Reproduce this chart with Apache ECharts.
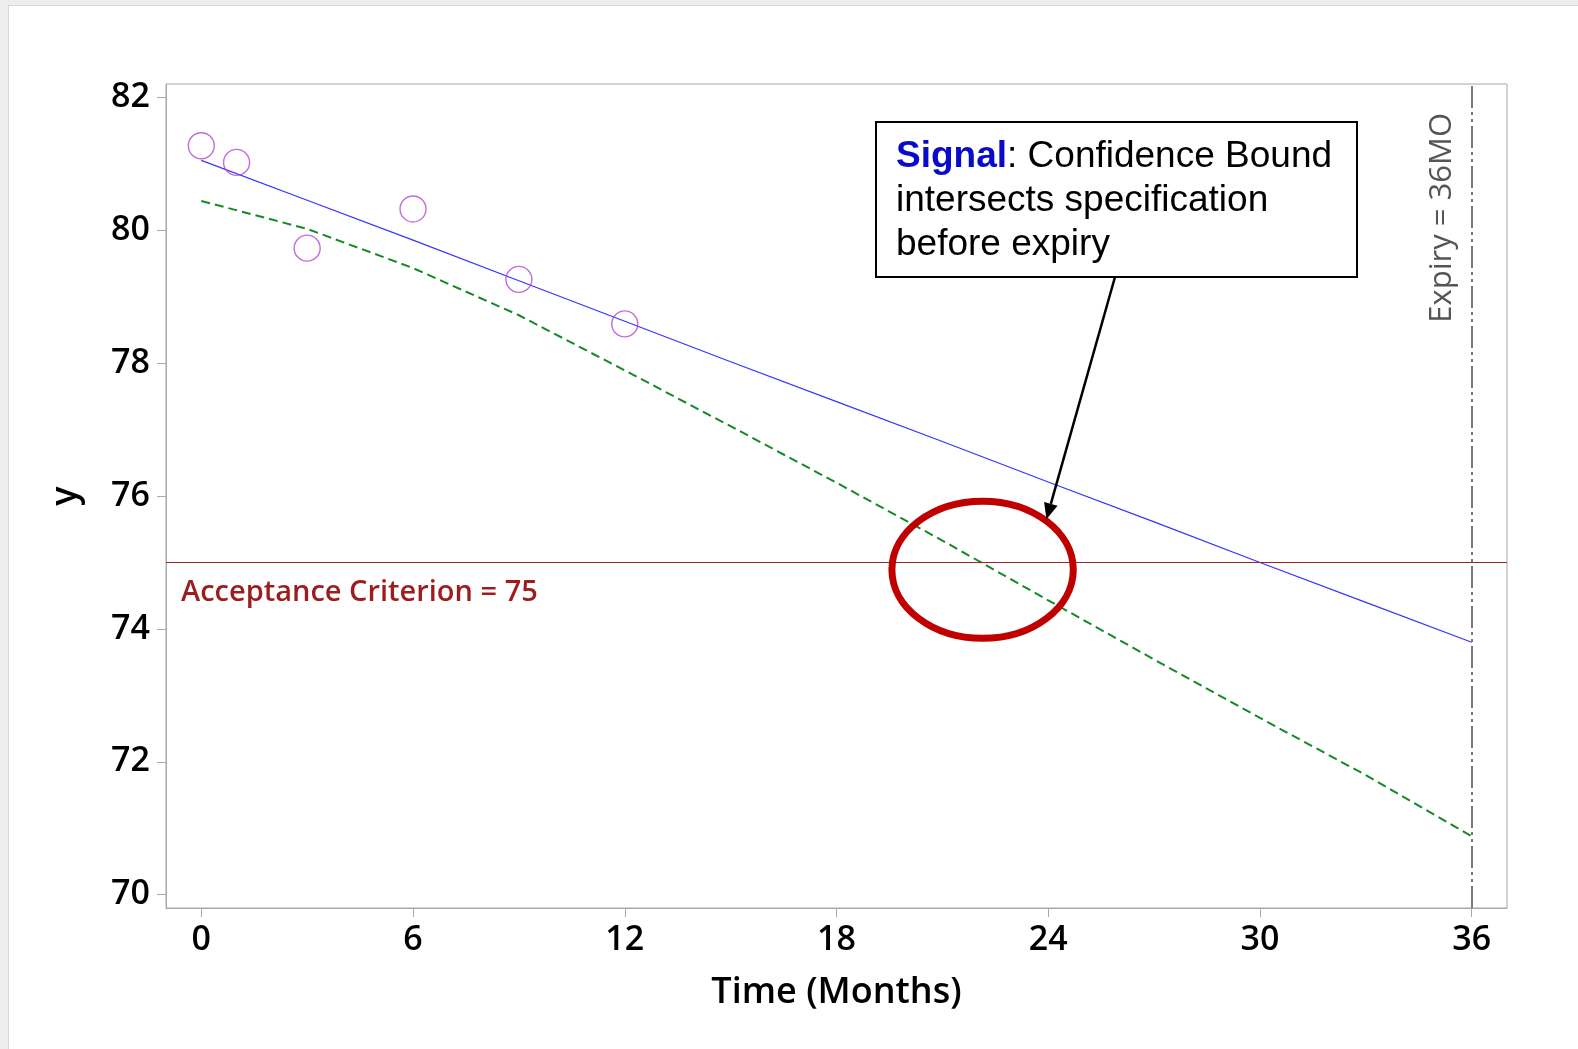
<!DOCTYPE html>
<html>
<head>
<meta charset="utf-8">
<title>Stability trend – Time (Months)</title>
<script src="https://cdn.jsdelivr.net/npm/echarts@6/dist/echarts.min.js"></script>
<style>
  html, body { margin: 0; padding: 0; width: 1578px; height: 1049px; background: #eeeeee; overflow: hidden; }
  #card { position: absolute; left: 8px; top: 5px; right: 0; bottom: 0; background: #fff;
          border-left: 1px solid #d8d8d8; border-top: 1px solid #d8d8d8; }
  #chart { position: absolute; left: 0; top: 0; width: 1578px; height: 1049px; }
</style>
</head>
<body>
<div id="card"></div>
<div id="chart"></div>
<script>
// Observed assay results
const obsMonths = [0, 1, 3, 6, 9, 12];
const obsValues = [81.27, 81.02, 79.73, 80.32, 79.26, 78.59];

// Fitted regression line and its lower confidence bound, read at 3-month steps
const gridMonths = [0, 3, 6, 9, 12, 15, 18, 21, 24, 27, 30, 33, 36];
const fitValues   = [81.05, 80.45, 79.85, 79.24, 78.63, 78.02, 77.42, 76.82, 76.21, 75.61, 75.00, 74.40, 73.80];
const lowerValues = [80.44, 80.02, 79.43, 78.72, 77.89, 77.05, 76.20, 75.33, 74.43, 73.54, 72.66, 71.80, 70.88];

// Tick labels
const xTicks = [0, 6, 12, 18, 24, 30, 36];
const yTicks = [70, 72, 74, 76, 78, 80, 82];

// Reference levels
const acceptance = 75;
const expiry = 36;

const FONT = '"Open Sans", "Noto Sans", sans-serif';
const chart = echarts.init(document.getElementById('chart'), null, { renderer: 'canvas' });

const pairs = (xs, ys) => xs.map((x, i) => [x, ys[i]]);

chart.setOption({
  backgroundColor: 'transparent',
  animation: false,
  grid: { left: 166, right: 71, top: 84, bottom: 141, show: true,
          borderColor: '#a8a8a8', borderWidth: 1, backgroundColor: 'transparent' },
  xAxis: {
    type: 'value', min: -1, max: 37,
    splitLine: { show: false },
    axisLine: { show: true, onZero: false, lineStyle: { color: '#a8a8a8', width: 1 } },
    axisTick: { show: true, customValues: xTicks, length: 9, lineStyle: { color: '#a8a8a8' } },
    axisLabel: { customValues: xTicks, fontSize: 34, fontWeight: 600, color: '#000', margin: 15, fontFamily: FONT },
    name: 'Time (Months)', nameLocation: 'middle', nameGap: 67,
    nameTextStyle: { fontSize: 36, fontWeight: 600, color: '#000', fontFamily: FONT }
  },
  yAxis: {
    type: 'value', min: 69.8, max: 82.2,
    splitLine: { show: false },
    axisLine: { show: true, onZero: false, lineStyle: { color: '#a8a8a8', width: 1 } },
    axisTick: { show: true, customValues: yTicks, length: 9, lineStyle: { color: '#a8a8a8' } },
    axisLabel: { customValues: yTicks, fontSize: 34, fontWeight: 600, color: '#000', margin: 16, fontFamily: FONT },
    name: 'y', nameLocation: 'middle', nameGap: 82, nameRotate: 90,
    nameTextStyle: { fontSize: 36, fontWeight: 600, color: '#000', fontFamily: FONT }
  },
  series: [
    {
      name: 'Fit', type: 'line', data: pairs(gridMonths, fitValues),
      showSymbol: false, lineStyle: { color: '#3434ff', width: 1.2 }, z: 3,
      markLine: {
        silent: true, symbol: 'none', label: { show: false },
        data: [
          { yAxis: acceptance, lineStyle: { color: '#9c2626', width: 1.2, type: 'solid' } },
          { xAxis: expiry, lineStyle: { color: '#7a7a7a', width: 2, type: [22, 4, 3, 4, 3, 4] } }
        ]
      }
    },
    {
      name: 'Lower bound', type: 'line', data: pairs(gridMonths, lowerValues),
      showSymbol: false, lineStyle: { color: '#138a25', width: 2, type: [9, 5] }, z: 3
    },
    {
      name: 'Observed', type: 'scatter', data: pairs(obsMonths, obsValues),
      symbol: 'circle', symbolSize: 26,
      itemStyle: { color: 'rgba(255,255,255,0)', borderColor: '#b048d4', borderWidth: 1.4 }, z: 4
    }
  ]
});

// Annotations positioned from data coordinates
function px(x, y) { return chart.convertToPixel({ gridIndex: 0 }, [x, y]); }

const acc = px(-1, acceptance);
const exp = px(expiry, 82.2);
const ring = px(22.14, 74.89);
const tip = px(23.95, 75.65);

const boxL = 876, boxT = 122, boxW = 481, boxH = 155;
const tail = [1115, boxT + boxH];
const ang = Math.atan2(tip[1] - tail[1], tip[0] - tail[0]);
const headLen = 16, headHalf = 7;
const base = [tip[0] - headLen * Math.cos(ang), tip[1] - headLen * Math.sin(ang)];
const nx = -Math.sin(ang), ny = Math.cos(ang);

chart.setOption({
  graphic: [
    {
      type: 'text', left: acc[0] + 15, top: acc[1] + 16,
      style: { text: 'Acceptance Criterion = ' + acceptance, fontSize: 29, fontWeight: 600,
               fontFamily: FONT, fill: '#9c1d1d' }, z: 10
    },
    {
      type: 'text', x: exp[0] - 30, y: exp[1] + 29, rotation: Math.PI / 2,
      style: { text: 'Expiry = ' + expiry + 'MO', fontSize: 31, fontFamily: FONT, fill: '#555',
               align: 'right', verticalAlign: 'middle' }, z: 10
    },
    {
      type: 'ellipse', shape: { cx: ring[0], cy: ring[1], rx: 90.7, ry: 68.6 },
      style: { fill: 'none', stroke: '#c00000', lineWidth: 7 }, z: 10
    },
    {
      type: 'line', shape: { x1: tail[0], y1: tail[1], x2: base[0], y2: base[1] },
      style: { stroke: '#000', lineWidth: 2.5 }, z: 11
    },
    {
      type: 'polygon',
      shape: { points: [tip, [base[0] + nx * headHalf, base[1] + ny * headHalf], [base[0] - nx * headHalf, base[1] - ny * headHalf]] },
      style: { fill: '#000' }, z: 11
    },
    {
      type: 'rect', shape: { x: boxL, y: boxT, width: boxW, height: boxH },
      style: { fill: '#fff', stroke: '#000', lineWidth: 2 }, z: 12
    },
    {
      type: 'text', x: boxL + 20, y: boxT + 13, z: 13,
      style: {
        text: '{sig|Signal}: Confidence Bound\nintersects specification\nbefore expiry',
        fontSize: 37, lineHeight: 44, fontFamily: '"Liberation Sans", Arial, sans-serif', fill: '#000',
        rich: { sig: { fontWeight: 'bold', fill: '#0a0acc', fontSize: 37, lineHeight: 44,
                       fontFamily: '"Liberation Sans", Arial, sans-serif' } }
      }
    }
  ]
});
</script>
</body>
</html>
